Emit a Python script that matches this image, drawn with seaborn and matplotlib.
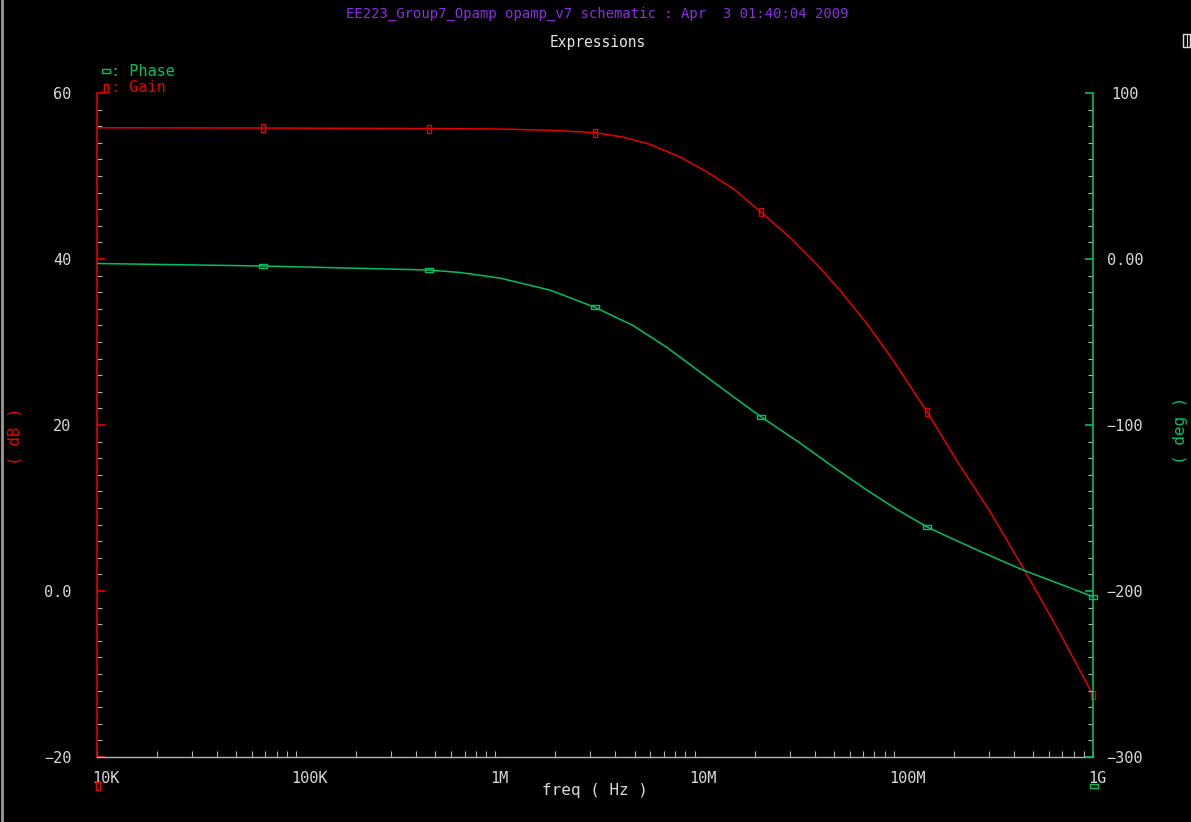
import matplotlib
matplotlib.use("Agg")
import matplotlib.pyplot as plt
import matplotlib.transforms as mtransforms
from matplotlib.lines import Line2D
from matplotlib.patches import Rectangle
from matplotlib.ticker import MultipleLocator, LogLocator, NullFormatter
import seaborn as sns

# ---------------- data ----------------
gain_freq = [1.0e4, 6.81e4, 4.64e5, 1.054e6, 1.88e6, 3.16e6, 4.37e6, 5.97e6,
             8.45e6, 1.15e7, 1.566e7, 2.15e7, 3.01e7, 4.10e7, 5.41e7, 7.31e7,
             9.76e7, 1.47e8, 2.10e8, 3.04e8, 4.45e8, 6.57e8, 1.0e9]
gain_db = [55.81, 55.78, 55.72, 55.66, 55.51, 55.22, 54.69, 53.82,
           52.29, 50.51, 48.46, 45.66, 42.61, 39.37, 36.14, 32.23,
           28.05, 21.57, 15.48, 9.58, 2.83, -4.34, -12.53]

phase_freq = [1.0e4, 6.81e4, 4.64e5, 6.64e5, 1.054e6, 1.88e6, 3.16e6, 4.91e6,
              7.27e6, 1.065e7, 1.559e7, 2.15e7, 3.38e7, 4.95e7, 7.31e7, 1.038e8,
              1.47e8, 2.03e8, 2.62e8, 3.41e8, 4.45e8, 7.41e8, 1.0e9]
phase_deg = [-2.71, -4.22, -6.63, -8.13, -11.51, -18.73, -29.10, -40.06,
             -53.31, -68.07, -82.83, -95.00, -110.84, -125.12, -139.16, -150.90,
             -161.45, -169.28, -175.30, -181.33, -187.35, -197.41, -203.43]

marker_freq = [6.81e4, 4.64e5, 3.16e6, 2.15e7, 1.47e8, 1.0e9]

gain_ticks = [-20, 0, 20, 40, 60]
gain_ticklabels = ["\u221220", "0.0", "20", "40", "60"]
phase_ticks = [-300, -200, -100, 0, 100]
phase_ticklabels = ["\u2212300", "\u2212200", "\u2212100", "0.00", "100"]
freq_ticks = [1e4, 1e5, 1e6, 1e7, 1e8, 1e9]
freq_ticklabels = ["10K", "100K", "1M", "10M", "100M", "1G"]

title_text = "EE223_Group7_Opamp opamp_v7 schematic : Apr  3 01:40:04 2009"
subtitle_text = "Expressions"

# ---------------- style ----------------
RED = "#e60000"
GREEN = "#00c060"
PURPLE = "#8c2ee6"
LBL = "#d8d8d8"
GRAY = "#b4b4b4"

sns.set_theme(style="dark", rc={"axes.facecolor": "black",
                                "figure.facecolor": "black",
                                "savefig.facecolor": "black"})
plt.rcParams["font.family"] = ["DejaVu Sans Mono", "DejaVu Sans"]

W, H = 1191, 822
fig = plt.figure(figsize=(W / 100, H / 100), dpi=100, facecolor="black")
ax = fig.add_axes([97 / W, 65 / H, 996 / W, 664 / H])
ax.set_facecolor("black")
ax.set_xscale("log")

sns.lineplot(x=gain_freq, y=gain_db, ax=ax, color=RED, linewidth=1.1)
ax2 = ax.twinx()
sns.lineplot(x=phase_freq, y=phase_deg, ax=ax2, color=GREEN, linewidth=1.1)

gain_lookup = dict(zip(gain_freq, gain_db))
phase_lookup = dict(zip(phase_freq, phase_deg))
vrect = [(-0.3, -0.5), (0.3, -0.5), (0.3, 0.5), (-0.3, 0.5), (-0.3, -0.5)]
hrect = [(-0.5, -0.25), (0.5, -0.25), (0.5, 0.25), (-0.5, 0.25), (-0.5, -0.25)]
ax.plot(marker_freq, [gain_lookup[f] for f in marker_freq], ls="none",
        marker=vrect, ms=5.5, mfc="none", mec=RED, mew=1.0, clip_on=False)
ax2.plot(marker_freq, [phase_lookup[f] for f in marker_freq], ls="none",
         marker=hrect, ms=6, mfc="none", mec=GREEN, mew=1.0, clip_on=False)

ax.set_xlim(1e4, 1e9)
ax.set_ylim(-20, 60)
ax2.set_ylim(-300, 100)

# spines
for s in ["top", "right"]:
    ax.spines[s].set_visible(False)
ax.spines["left"].set_color(RED)
ax.spines["left"].set_linewidth(1.2)
ax.spines["bottom"].set_color(GRAY)
ax.spines["bottom"].set_linewidth(1.0)
for s in ["top", "left", "bottom"]:
    ax2.spines[s].set_visible(False)
ax2.spines["right"].set_visible(True)
ax2.spines["right"].set_color(GREEN)
ax2.spines["right"].set_linewidth(1.2)

# y ticks (left)
ax.set_yticks(gain_ticks, gain_ticklabels, ha="right")
ax.yaxis.set_minor_locator(MultipleLocator(2))
ax.tick_params(axis="y", which="major", direction="in", length=6, width=1.2,
               color=RED, labelcolor=LBL, labelsize=11, pad=18.5, left=True)
ax.tick_params(axis="y", which="minor", direction="in", length=3.5, width=0.8,
               color=GRAY, left=True)

# y ticks (right)
ax2.set_yticks(phase_ticks, phase_ticklabels, ha="center")
ax2.yaxis.set_minor_locator(MultipleLocator(10))
ax2.tick_params(axis="y", which="major", direction="in", length=6, width=1.2,
                color=GREEN, labelcolor=LBL, labelsize=11, pad=23, right=True)
ax2.tick_params(axis="y", which="minor", direction="in", length=3.5, width=0.8,
                color=GRAY, right=True)

# x ticks
ax.set_xticks(freq_ticks, freq_ticklabels, ha="left")
ax.xaxis.set_minor_locator(LogLocator(base=10, subs=range(2, 10)))
ax.xaxis.set_minor_formatter(NullFormatter())
ax.tick_params(axis="x", which="both", direction="in", length=4, width=0.8,
               color=GRAY, labelcolor=LBL, labelsize=11, pad=10, bottom=True)
off = mtransforms.ScaledTranslation(-5 / 100, 0, fig.dpi_scale_trans)
for lbl in ax.get_xticklabels():
    lbl.set_transform(lbl.get_transform() + off)

ax.grid(False)
ax2.grid(False)

# axis labels
ax.set_xlabel("freq ( Hz )", color=LBL, fontsize=11.5, va="center")
ax.xaxis.set_label_coords(0.5, (757 - 790) / 664)
ax.set_ylabel("( dB )", color=RED, fontsize=11.5, rotation=90, va="center", ha="center")
ax.yaxis.set_label_coords((15 - 97) / 996, (757 - 436) / 664)
ax2.set_ylabel("( deg )", color=GREEN, fontsize=11.5, rotation=90, va="center", ha="center")
ax2.yaxis.set_label_coords((1181 - 97) / 996, (757 - 430) / 664)

# titles
fig.text(597 / W, 1 - 14 / H, title_text, color=PURPLE, fontsize=10,
         ha="center", va="center")
fig.text(598 / W, 1 - 43 / H, subtitle_text, color="#e4e4e4", fontsize=10.5,
         ha="center", va="center")

# legend
fig.add_artist(Line2D([105.5 / W], [1 - 71.5 / H], transform=fig.transFigure,
                      ls="none", marker=hrect, ms=6, mfc="none", mec=GREEN, mew=1.0))
fig.text(111 / W, 1 - 71 / H, ": Phase", color=GREEN, fontsize=11,
         ha="left", va="center")
fig.add_artist(Line2D([105.5 / W], [1 - 88 / H], transform=fig.transFigure,
                      ls="none", marker=vrect, ms=5.5, mfc="none", mec=RED, mew=1.0))
fig.text(111 / W, 1 - 87 / H, ": Gain", color=RED, fontsize=11,
         ha="left", va="center")

# axis indicator markers below x axis
fig.add_artist(Line2D([97.5 / W], [1 - 786 / H], transform=fig.transFigure,
                      ls="none", marker=vrect, ms=5.5, mfc="none", mec=RED, mew=1.0))
fig.add_artist(Line2D([1094 / W], [1 - 786 / H], transform=fig.transFigure,
                      ls="none", marker=hrect, ms=6, mfc="none", mec=GREEN, mew=1.0))

# window decorations
fig.add_artist(Line2D([1.5 / W, 1.5 / W], [0, 1], transform=fig.transFigure,
                      color="#9a9a9a", lw=2))
fig.add_artist(Rectangle((1183 / W, 1 - 47 / H), 7 / W, 13 / H, fill=False,
                         edgecolor="#e0e0e0", lw=1.0, transform=fig.transFigure))
fig.add_artist(Line2D([1186.5 / W, 1186.5 / W], [1 - 46 / H, 1 - 35 / H],
                      transform=fig.transFigure, color="#e0e0e0", lw=0.8))

fig.savefig("out.png", dpi=100, facecolor="black")
